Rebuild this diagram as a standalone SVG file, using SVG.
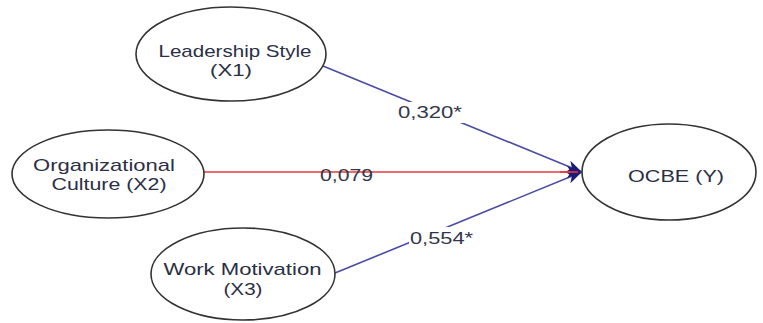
<svg xmlns="http://www.w3.org/2000/svg" width="763" height="323" viewBox="0 0 763 323">
<style>
.node ellipse{fill:#fff;stroke:#333;stroke-width:1.6}
.nt{font-family:"Liberation Sans",Arial,sans-serif;font-size:17px;fill:#2b2f45;text-anchor:middle}
.lbl{font-family:"Liberation Sans",Arial,sans-serif;font-size:17px;fill:#33364a;text-anchor:middle}
.blue{stroke:#4b4ba3;stroke-width:1.6;fill:none}
.red{stroke:#e23a3a;stroke-width:1.6;fill:none}
</style>
<defs>
<marker id="ah" markerUnits="userSpaceOnUse" markerWidth="15" markerHeight="12" refX="15" refY="6" orient="auto">
<path d="M0,0 L15,6 L0,12 L4,6 Z" fill="#1c1c78"/>
</marker>
</defs>
<rect width="763" height="323" fill="#fff"/>
<g id="connectors">
<line class="blue" x1="323" y1="66" x2="582" y2="172" marker-end="url(#ah)"/>
<line class="blue" x1="335" y1="273" x2="582" y2="172" marker-end="url(#ah)"/>
<line class="red" x1="204" y1="172" x2="582" y2="172" marker-end="url(#ah)"/>
<line class="red" x1="560" y1="172" x2="578" y2="172"/>
<rect x="397" y="102" width="67" height="21" fill="#fff"/>
<text class="lbl" x="430" y="118" textLength="64" lengthAdjust="spacingAndGlyphs">0,320*</text>
<text class="lbl" x="346.5" y="181" textLength="53" lengthAdjust="spacingAndGlyphs">0,079</text>
<rect x="409" y="227" width="56" height="20" fill="#fff"/>
<text class="lbl" x="441.5" y="244" textLength="63" lengthAdjust="spacingAndGlyphs">0,554*</text>
</g>
<g id="x1" class="node">
<ellipse cx="231" cy="54" rx="95" ry="47"/>
<text class="nt" x="235" y="57" textLength="153" lengthAdjust="spacingAndGlyphs">Leadership Style</text>
<text class="nt" x="231" y="76" textLength="42" lengthAdjust="spacingAndGlyphs">(X1)</text>
</g>
<g id="x2" class="node">
<ellipse cx="108" cy="174" rx="96" ry="44"/>
<text class="nt" x="104" y="171" textLength="142" lengthAdjust="spacingAndGlyphs">Organizational</text>
<text class="nt" x="109" y="190" textLength="115" lengthAdjust="spacingAndGlyphs">Culture (X2)</text>
</g>
<g id="x3" class="node">
<ellipse cx="243" cy="274" rx="92" ry="46"/>
<text class="nt" x="242.5" y="275" textLength="158" lengthAdjust="spacingAndGlyphs">Work Motivation</text>
<text class="nt" x="243" y="295" textLength="39" lengthAdjust="spacingAndGlyphs">(X3)</text>
</g>
<g id="y" class="node">
<ellipse cx="669" cy="172" rx="87" ry="48"/>
<text class="nt" x="676" y="182" textLength="96" lengthAdjust="spacingAndGlyphs">OCBE (Y)</text>
</g>
</svg>
